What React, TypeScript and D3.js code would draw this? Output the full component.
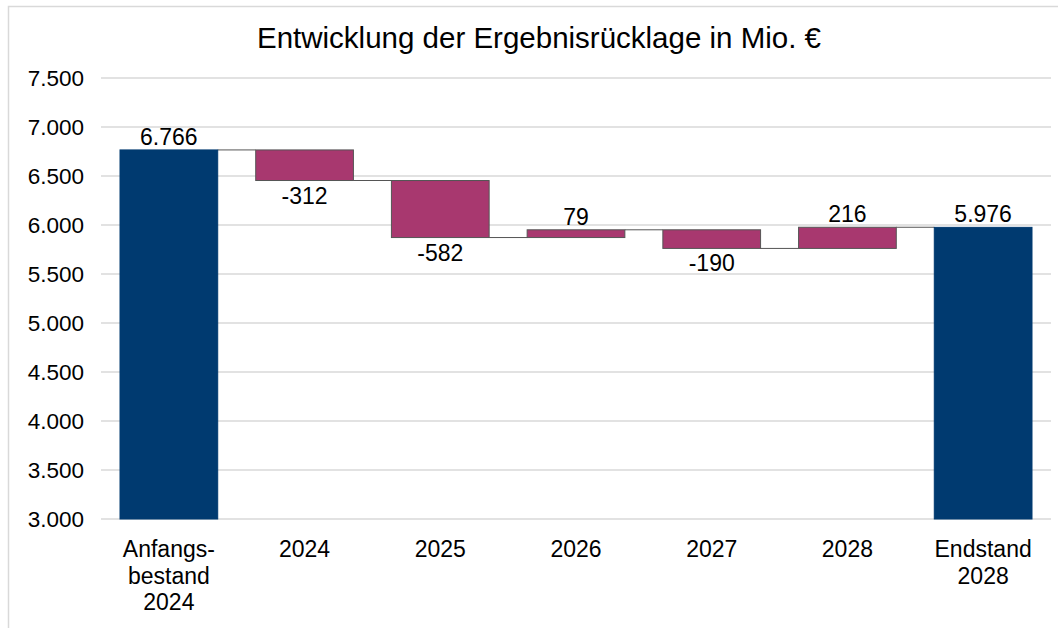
import React from 'react';
import * as d3 from 'd3';

const categories = ['Anfangs-\nbestand\n2024', '2024', '2025', '2026', '2027', '2028', 'Endstand\n2028'];
const changes = [6766, -312, -582, 79, -190, 216, 5976];
const kinds = ['total', 'delta', 'delta', 'delta', 'delta', 'delta', 'total'];
const valueLabels = ['6.766', '-312', '-582', '79', '-190', '216', '5.976'];
const yTicks = [3000, 3500, 4000, 4500, 5000, 5500, 6000, 6500, 7000, 7500];

const W = 1058;
const H = 628;
const font = 'Liberation Sans, Arial, sans-serif';
const fmt = (v: number) => d3.format(',')(v).replace(/,/g, '.');

// running totals for waterfall
const steps = (() => {
  let run = 0;
  return changes.map((v, i) => {
    if (kinds[i] === 'total') {
      run = v;
      return { start: 3000, end: v };
    }
    const start = run;
    run = run + v;
    return { start, end: run };
  });
})();

export default function App() {
  const x = d3.scaleBand().domain(categories).range([101, 1051]).paddingInner(0.28).paddingOuter(0.14);
  const y = d3.scaleLinear().domain([3000, 7500]).range([519, 78]);
  const bw = x.bandwidth();

  return (
    <svg width={W} height={H} style={{ position: 'absolute', left: 0, top: 0, background: '#fff' }}>
      <rect x={8.5} y={6.5} width={1200} height={800} fill="#fff" stroke="#d9d9d9" strokeWidth={1.5} />
      <text x={539} y={48} textAnchor="middle" fontFamily={font} fontSize={29.5} fill="#000">
        Entwicklung der Ergebnisrücklage in Mio. €
      </text>
      {yTicks.map(t => (
        <g key={t}>
          <line x1={101} x2={1051} y1={y(t)} y2={y(t)} stroke="#d9d9d9" strokeWidth={1.5} />
          <text x={84} y={y(t)} dy="0.35em" textAnchor="end" fontFamily={font} fontSize={22.5} fill="#000">
            {fmt(t)}
          </text>
        </g>
      ))}
      {steps.map((s, i) => {
        if (i === steps.length - 1) return null;
        const x1 = (x(categories[i]) as number) + bw;
        const x2 = x(categories[i + 1]) as number;
        return <line key={'c' + i} x1={x1} x2={x2} y1={y(s.end)} y2={y(s.end)} stroke="#555" strokeWidth={1} />;
      })}
      {steps.map((s, i) => {
        const x0 = x(categories[i]) as number;
        const lo = Math.min(s.start, s.end);
        const hi = Math.max(s.start, s.end);
        const isTotal = kinds[i] === 'total';
        const neg = changes[i] < 0;
        return (
          <g key={i}>
            <rect
              x={x0}
              y={y(hi)}
              width={bw}
              height={y(lo) - y(hi)}
              fill={isTotal ? '#003a70' : '#a8386f'}
              stroke={isTotal ? '#003a70' : '#555'}
              strokeWidth={1}
            />
            <text
              x={x0 + bw / 2}
              y={neg ? y(lo) + 23 : y(hi) - 5}
              textAnchor="middle"
              fontFamily={font}
              fontSize={23}
              fill="#000"
            >
              {valueLabels[i]}
            </text>
          </g>
        );
      })}
      {categories.map(c => (
        <text key={c} textAnchor="middle" fontFamily={font} fontSize={23} fill="#000">
          {c.split('\n').map((ln, j) => (
            <tspan key={j} x={(x(c) as number) + bw / 2} y={557 + j * 26.5}>
              {ln}
            </tspan>
          ))}
        </text>
      ))}
    </svg>
  );
}
